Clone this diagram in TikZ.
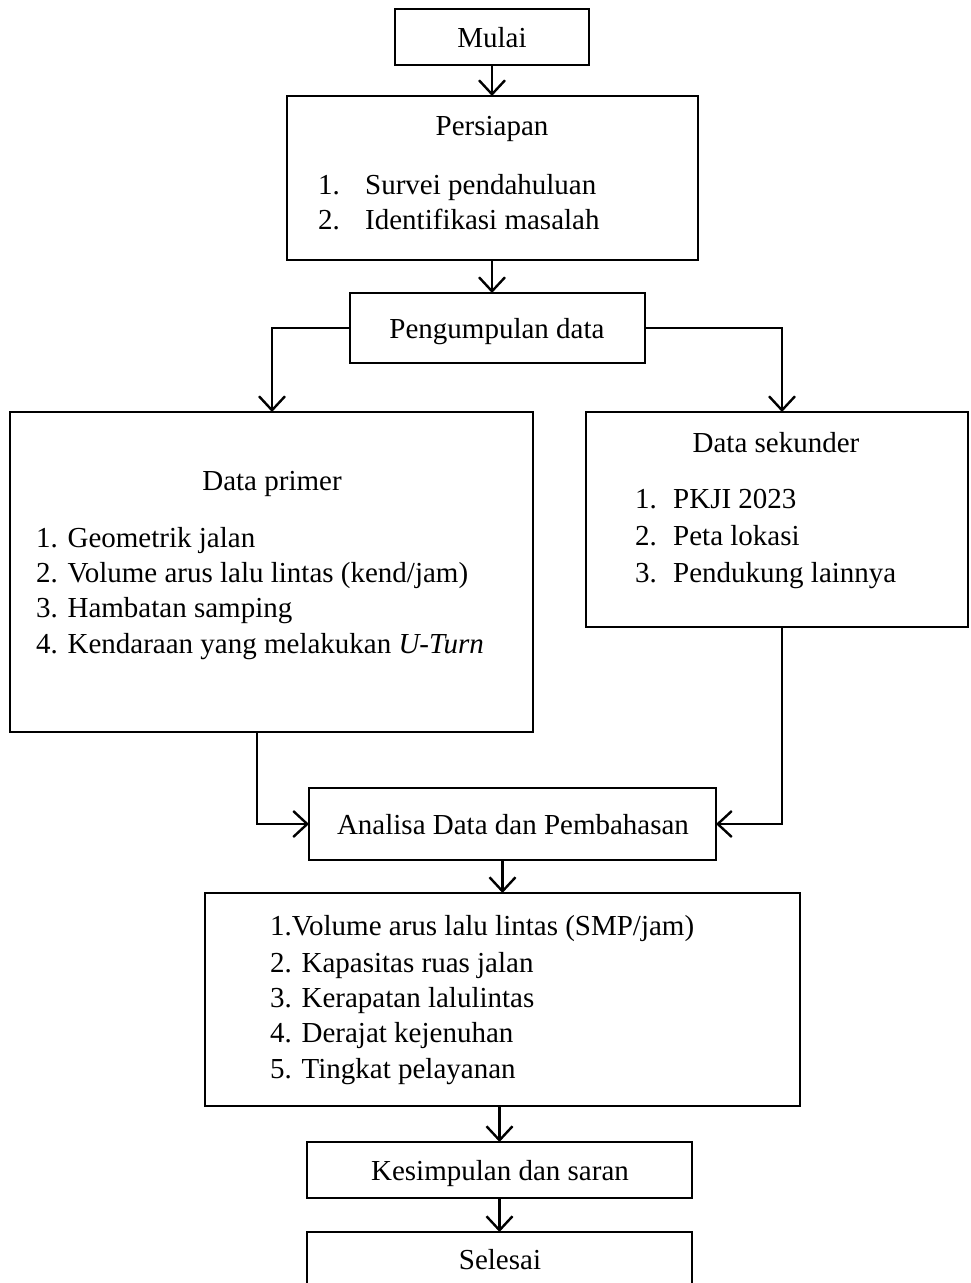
\documentclass[tikz,border=0pt]{standalone}
\usepackage{fontspec}
\setmainfont{Liberation Serif}
\usetikzlibrary{arrows.meta,calc}
\begin{document}
\begin{tikzpicture}[x=1pt,y=-1pt,
  font=\fontsize{29}{36}\selectfont,
  box/.style={draw,line width=2.6pt,inner sep=0pt,outer sep=0pt,anchor=north west},
  txt/.style={inner sep=0pt,anchor=base},
  itm/.style={inner sep=0pt,anchor=base west},
  conn/.style={line width=2.6pt,line join=miter,-{Straight Barb[length=14pt,width=26pt,line width=2.4pt]}}]
\useasboundingbox (0,0) rectangle (970,1283);

% boxes
\node[box,minimum width=194pt,minimum height=56pt] (mulai) at (395,9) {};
\node[box,minimum width=411pt,minimum height=164pt] (persiapan) at (287,96) {};
\node[box,minimum width=295pt,minimum height=70pt] (kumpul) at (350,293) {};
\node[box,minimum width=523pt,minimum height=320pt] (primer) at (10,412) {};
\node[box,minimum width=382pt,minimum height=215pt] (sekunder) at (586,412) {};
\node[box,minimum width=407pt,minimum height=72pt] (analisa) at (309,788) {};
\node[box,minimum width=595pt,minimum height=213pt] (hasil) at (205,893) {};
\node[box,minimum width=385pt,minimum height=56pt] (simpul) at (307,1142) {};
\node[box,minimum width=385pt,minimum height=70pt] (selesai) at (307,1232) {};

% texts
\node[txt] (tmulai) at (492,47) {Mulai};
\node[txt] (tpersiapan) at (492,135) {Persiapan};
\node[itm] (p1n) at (318,194) {1.};
\node[itm] (p1) at (365,194) {Survei pendahuluan};
\node[itm] (p2n) at (318,229) {2.};
\node[itm] (p2) at (365,229) {Identifikasi masalah};
\node[txt] (tkumpul) at (497,338) {Pengumpulan data};
\node[txt] (tprimer) at (272,490) {Data primer};
\node[itm] (dp1) at (36,547) {1. Geometrik jalan};
\node[itm] (dp2) at (36,582) {2. Volume arus lalu lintas (kend/jam)};
\node[itm] (dp3) at (36,617) {3. Hambatan samping};
\node[itm] (dp4) at (36,653) {4. Kendaraan yang melakukan \textit{U-Turn}};
\node[txt] (tsekunder) at (776,452) {Data sekunder};
\node[itm] (s1n) at (635,508) {1.};
\node[itm] (s1) at (673,508) {PKJI 2023};
\node[itm] (s2n) at (635,545) {2.};
\node[itm] (s2) at (673,545) {Peta lokasi};
\node[itm] (s3n) at (635,582) {3.};
\node[itm] (s3) at (673,582) {Pendukung lainnya};
\node[txt] (tanalisa) at (513,834) {Analisa Data dan Pembahasan};
\node[itm] (h1) at (270,935) {1.Volume arus lalu lintas (SMP/jam)};
\node[itm] (h2) at (270,972) {2. Kapasitas ruas jalan};
\node[itm] (h3) at (270,1007) {3. Kerapatan lalulintas};
\node[itm] (h4) at (270,1042) {4. Derajat kejenuhan};
\node[itm] (h5) at (270,1078) {5. Tingkat pelayanan};
\node[txt] (tsimpul) at (500,1180) {Kesimpulan dan saran};
\node[txt] (tselesai) at (500,1269) {Selesai};

% connector helper coordinates
\coordinate (kL) at (272,328);
\coordinate (kR) at (782,328);
\coordinate (pB) at (257,732);
\coordinate (pC) at (257,824);
\coordinate (sB) at (782,627);
\coordinate (sC) at (782,824);

% connectors
\draw[conn] (mulai.south -| 492,0) -- (persiapan.north -| 492,0);
\draw[conn] (persiapan.south -| 492,0) -- (kumpul.north -| 492,0);
\draw[conn] (kumpul.west) -- (kL) -- (kL |- primer.north);
\draw[conn] (kumpul.east) -- (kR) -- (kR |- sekunder.north);
\draw[conn] (pB) -- (pC) -- (analisa.west);
\draw[conn] (sB) -- (sC) -- (analisa.east);
\draw[conn] (hasil.north |- analisa.south) -- (hasil.north);
\draw[conn] (simpul.north |- hasil.south) -- (simpul.north);
\draw[conn] (simpul.south) -- (selesai.north);
\end{tikzpicture}
\end{document}
